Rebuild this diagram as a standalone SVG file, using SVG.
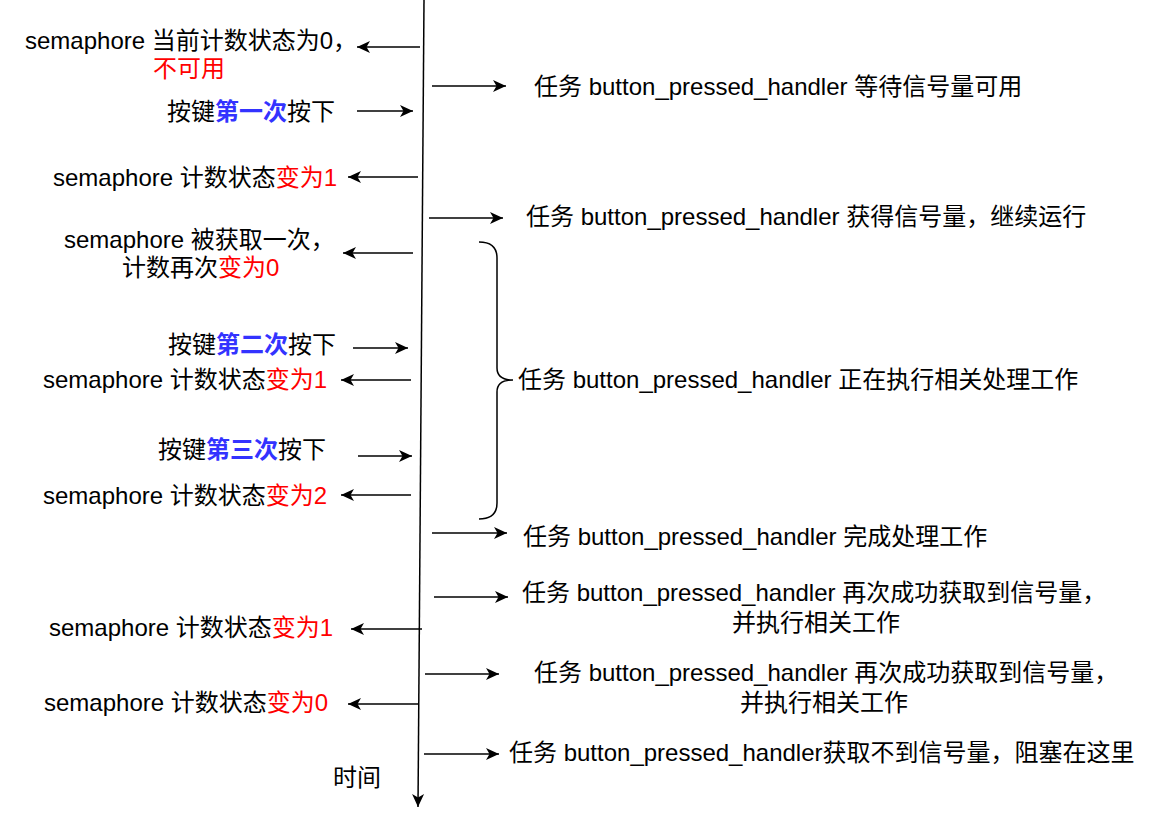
<svg xmlns="http://www.w3.org/2000/svg" width="1153" height="814" viewBox="0 0 1153 814">
<style>
text{font-family:"Liberation Sans","Noto Sans CJK SC",sans-serif;font-size:24px;fill:#000}
.r{fill:#FF0000}
.b{fill:#3333FF;font-weight:bold}
.c{fill:none;stroke:#000;stroke-width:1.5}
</style>
<defs>
<marker id="ah" markerUnits="userSpaceOnUse" markerWidth="16" markerHeight="16" viewBox="0 0 16 16" refX="14" refY="8" orient="auto">
<path d="M1,2 L14,8 L1,14 L4.5,8 Z" fill="#000"/>
</marker>
</defs>
<rect width="1153" height="814" fill="#fff"/>
<g id="connectors">
<line class="c" x1="424" y1="0" x2="418" y2="807" marker-end="url(#ah)"/>
<line class="c" x1="420" y1="47" x2="357" y2="47" marker-end="url(#ah)"/>
<line class="c" x1="418" y1="177" x2="348" y2="177" marker-end="url(#ah)"/>
<line class="c" x1="413" y1="253" x2="343" y2="253" marker-end="url(#ah)"/>
<line class="c" x1="411" y1="380" x2="341" y2="380" marker-end="url(#ah)"/>
<line class="c" x1="411" y1="495" x2="341" y2="495" marker-end="url(#ah)"/>
<line class="c" x1="422" y1="629" x2="351" y2="629" marker-end="url(#ah)"/>
<line class="c" x1="418" y1="704" x2="348" y2="704" marker-end="url(#ah)"/>
<line class="c" x1="357" y1="111" x2="413" y2="111" marker-end="url(#ah)"/>
<line class="c" x1="353" y1="348" x2="408" y2="348" marker-end="url(#ah)"/>
<line class="c" x1="358" y1="456" x2="412" y2="456" marker-end="url(#ah)"/>
<line class="c" x1="432" y1="86" x2="506" y2="86" marker-end="url(#ah)"/>
<line class="c" x1="429" y1="218" x2="503" y2="218" marker-end="url(#ah)"/>
<line class="c" x1="432" y1="533" x2="507" y2="533" marker-end="url(#ah)"/>
<line class="c" x1="434" y1="597" x2="508" y2="597" marker-end="url(#ah)"/>
<line class="c" x1="425" y1="674" x2="499" y2="674" marker-end="url(#ah)"/>
<line class="c" x1="424" y1="754" x2="499" y2="754" marker-end="url(#ah)"/>
</g>
<g id="brace">
<path class="c" d="M479,242 Q497,242 497,258 L497,368 Q497,380 513,380 Q497,380 497,392 L497,503 Q497,519 479,519"/>
</g>
<g id="left-labels">
<g id="n1"><text x="25" y="49">semaphore 当前计数状态为0，</text><text x="153" y="77" class="r">不可用</text></g>
<g id="n2"><text x="167" y="120">按键<tspan class="b">第一次</tspan>按下</text></g>
<g id="n3"><text x="53" y="186">semaphore 计数状态<tspan class="r">变为1</tspan></text></g>
<g id="n4"><text x="64" y="248">semaphore 被获取一次，</text><text x="122" y="276">计数再次<tspan class="r">变为0</tspan></text></g>
<g id="n5"><text x="168" y="353">按键<tspan class="b">第二次</tspan>按下</text></g>
<g id="n6"><text x="43" y="388">semaphore 计数状态<tspan class="r">变为1</tspan></text></g>
<g id="n7"><text x="158" y="458">按键<tspan class="b">第三次</tspan>按下</text></g>
<g id="n8"><text x="43" y="504">semaphore 计数状态<tspan class="r">变为2</tspan></text></g>
<g id="n9"><text x="49" y="636">semaphore 计数状态<tspan class="r">变为1</tspan></text></g>
<g id="n10"><text x="44" y="711">semaphore 计数状态<tspan class="r">变为0</tspan></text></g>
<g id="n11"><text x="333" y="786">时间</text></g>
</g>
<g id="right-labels">
<g id="t1"><text x="534" y="95">任务 button_pressed_handler 等待信号量可用</text></g>
<g id="t2"><text x="526" y="225">任务 button_pressed_handler 获得信号量，继续运行</text></g>
<g id="t3"><text x="518" y="388">任务 button_pressed_handler 正在执行相关处理工作</text></g>
<g id="t4"><text x="523" y="545">任务 button_pressed_handler 完成处理工作</text></g>
<g id="t5"><text x="522" y="601">任务 button_pressed_handler 再次成功获取到信号量，</text><text x="732" y="631">并执行相关工作</text></g>
<g id="t6"><text x="534" y="681">任务 button_pressed_handler 再次成功获取到信号量，</text><text x="740" y="711">并执行相关工作</text></g>
<g id="t7"><text x="509" y="761">任务 button_pressed_handler获取不到信号量，阻塞在这里</text></g>
</g>
</svg>
